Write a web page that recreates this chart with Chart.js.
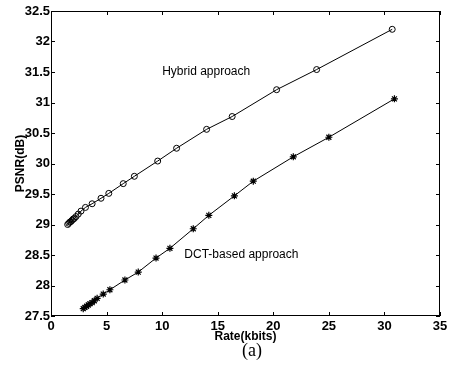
<!DOCTYPE html>
<html>
<head>
<meta charset="utf-8">
<script src="https://cdn.jsdelivr.net/npm/chart.js@4.4.1/dist/chart.umd.min.js"></script>
<style>
    html, body { margin: 0; padding: 0; background: #fff; }
    #wrap { width: 459px; height: 369px; }
</style>
</head>
<body>
<div id="wrap"><canvas id="psnrChart" width="459" height="369"></canvas></div>
<script>
// values
const hybridRate = [1.5, 1.6, 1.7, 1.8, 1.9, 2.0, 2.1, 2.25, 2.45, 2.7, 3.1, 3.7, 4.5, 5.2, 6.5, 7.5, 9.6, 11.3, 14.0, 16.3, 20.3, 23.9, 30.7];
const hybridPsnr = [29.0, 29.02, 29.04, 29.05, 29.07, 29.09, 29.1, 29.13, 29.17, 29.22, 29.28, 29.34, 29.43, 29.51, 29.67, 29.79, 30.04, 30.25, 30.56, 30.77, 31.21, 31.54, 32.2];
const dctRate = [2.9, 3.05, 3.2, 3.35, 3.5, 3.7, 3.9, 4.15, 4.7, 5.3, 6.65, 7.85, 9.45, 10.7, 12.8, 14.2, 16.5, 18.2, 21.8, 25.0, 30.9];
const dctPsnr = [27.62, 27.64, 27.66, 27.68, 27.70, 27.72, 27.75, 27.79, 27.86, 27.93, 28.09, 28.22, 28.45, 28.61, 28.93, 29.15, 29.47, 29.71, 30.11, 30.43, 31.06];
const xTicks = [0, 5, 10, 15, 20, 25, 30, 35];
const yTicks = [27.5, 28, 28.5, 29, 29.5, 30, 30.5, 31, 31.5, 32, 32.5];

const sansFont = "'Liberation Sans', Arial, sans-serif";

function toPoints(xs, ys) {
    return xs.map((x, i) => ({ x: x, y: ys[i] }));
}

// box round the plot, inward ticks on all sides, text labels
const framePlugin = {
    id: 'frame',
    afterDraw(chart) {
        const ctx = chart.ctx;
        const area = chart.chartArea;
        const xs = chart.scales.x;
        const ys = chart.scales.y;
        const tl = 4;
        ctx.save();
        ctx.strokeStyle = '#000';
        ctx.lineWidth = 1;
        ctx.strokeRect(area.left + 0.5, area.top + 0.5, area.right - area.left - 1, area.bottom - area.top - 1);
        ctx.beginPath();
        xTicks.forEach(v => {
            const px = Math.round(xs.getPixelForValue(v)) + 0.5;
            ctx.moveTo(px, area.bottom);
            ctx.lineTo(px, area.bottom - tl);
            ctx.moveTo(px, area.top);
            ctx.lineTo(px, area.top + tl);
        });
        yTicks.forEach(v => {
            const py = Math.round(ys.getPixelForValue(v)) + 0.5;
            ctx.moveTo(area.left, py);
            ctx.lineTo(area.left + tl, py);
            ctx.moveTo(area.right, py);
            ctx.lineTo(area.right - tl, py);
        });
        ctx.stroke();

        ctx.fillStyle = '#000';
        ctx.font = '12px ' + sansFont;
        ctx.textBaseline = 'middle';
        ctx.textAlign = 'left';
        ctx.fillText('Hybrid approach', xs.getPixelForValue(10), ys.getPixelForValue(31.5));
        ctx.fillText('DCT-based approach', xs.getPixelForValue(12), ys.getPixelForValue(28.5));

        ctx.font = "18px 'Liberation Serif', 'Times New Roman', serif";
        ctx.textAlign = 'center';
        ctx.fillText('(a)', 252, 351);
        ctx.restore();
    }
};

const ctx = document.getElementById('psnrChart').getContext('2d');
new Chart(ctx, {
    type: 'scatter',
    data: {
        datasets: [{
            label: 'Hybrid approach',
            data: toPoints(hybridRate, hybridPsnr),
            showLine: true,
            borderColor: '#000',
            borderWidth: 1,
            pointStyle: 'circle',
            pointRadius: 3,
            pointBorderWidth: 1,
            pointBorderColor: '#000',
            pointBackgroundColor: 'rgba(0,0,0,0)'
        }, {
            label: 'DCT-based approach',
            data: toPoints(dctRate, dctPsnr),
            showLine: true,
            borderColor: '#000',
            borderWidth: 1,
            pointStyle: 'star',
            pointRadius: 3.5,
            pointBorderWidth: 1.2,
            pointBorderColor: '#000',
            pointBackgroundColor: '#000'
        }]
    },
    options: {
        responsive: false,
        animation: false,
        layout: { padding: { top: 11, right: 19, left: 0, bottom: 0 } },
        scales: {
            x: {
                type: 'linear',
                min: 0,
                max: 35,
                afterBuildTicks: s => { s.ticks = xTicks.map(v => ({ value: v })); },
                afterFit: s => { s.height = 53; },
                grid: { display: false, drawTicks: false },
                border: { display: false },
                ticks: {
                    color: '#000',
                    padding: 3,
                    maxRotation: 0,
                    callback: v => String(v),
                    font: { family: sansFont, size: 13, weight: 'bold' }
                },
                title: {
                    display: true,
                    text: 'Rate(kbits)',
                    color: '#000',
                    padding: { top: 0, bottom: 25 },
                    font: { family: sansFont, size: 12, weight: 'bold' }
                }
            },
            y: {
                type: 'linear',
                min: 27.5,
                max: 32.5,
                afterBuildTicks: s => { s.ticks = yTicks.map(v => ({ value: v })); },
                afterFit: s => { s.width = 51; },
                grid: { display: false, drawTicks: false },
                border: { display: false },
                ticks: {
                    color: '#000',
                    padding: 1,
                    callback: v => String(v),
                    font: { family: sansFont, size: 13, weight: 'bold' }
                },
                title: {
                    display: true,
                    text: 'PSNR(dB)',
                    color: '#000',
                    padding: { top: 13, bottom: 0 },
                    font: { family: sansFont, size: 12, weight: 'bold' }
                }
            }
        },
        plugins: {
            legend: { display: false },
            tooltip: { enabled: false }
        }
    },
    plugins: [framePlugin]
});
</script>
</body>
</html>
